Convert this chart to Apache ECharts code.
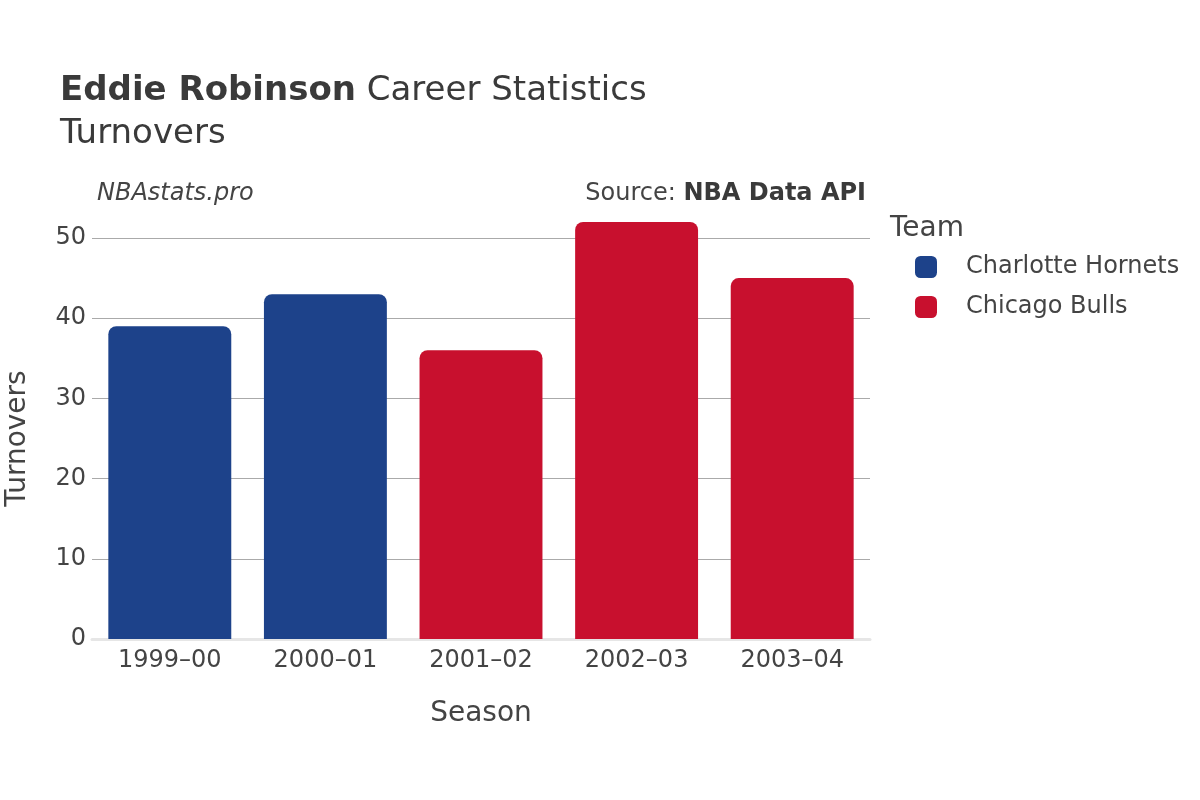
<!DOCTYPE html>
<html>
<head>
<meta charset="utf-8">
<script src="https://cdn.jsdelivr.net/npm/echarts@6/dist/echarts.min.js"></script>
<style>
  html, body { margin: 0; padding: 0; background: #fff; }
  #main { width: 1200px; height: 800px; }
</style>
</head>
<body>
<div id="main"></div>
<script>
// seasons and turnovers per team
var seasons = ['1999–00', '2000–01', '2001–02', '2002–03', '2003–04'];
var hornets = [39, 43, null, null, null];
var bulls = [null, null, 36, 52, 45];
var teams = ['Charlotte Hornets', 'Chicago Bulls'];
var yTicks = [0, 10, 20, 30, 40, 50];

var font = 'DejaVu Sans';
var textColor = '#444';

var chart = echarts.init(document.getElementById('main'));

var option = {
  backgroundColor: '#fff',
  animation: false,
  title: [
    {
      text: '{b|Eddie Robinson} Career Statistics',
      left: 55, top: 69,
      textStyle: {
        fontFamily: font, fontSize: 34, color: '#3a3a3a', fontWeight: 'normal',
        rich: { b: { fontFamily: font, fontSize: 34, fontWeight: 'bold', color: '#3a3a3a' } }
      }
    },
    {
      text: 'Turnovers',
      left: 55, top: 112,
      textStyle: { fontFamily: font, fontSize: 34, color: '#3a3a3a', fontWeight: 'normal' }
    },
    {
      text: 'NBAstats.pro',
      left: 92, top: 177,
      textStyle: { fontFamily: font, fontSize: 24, color: '#444', fontStyle: 'italic', fontWeight: 'normal' }
    },
    {
      text: 'Source: {b|NBA Data API}',
      right: 329, top: 177,
      textStyle: {
        fontFamily: font, fontSize: 24, color: '#444', fontWeight: 'normal',
        rich: { b: { fontFamily: font, fontSize: 24, fontWeight: 'bold', color: '#3a3a3a' } }
      }
    },
    {
      text: 'Team',
      left: 885, top: 210,
      textStyle: { fontFamily: font, fontSize: 28, color: '#444', fontWeight: 'normal' }
    }
  ],
  legend: {
    orient: 'vertical',
    left: 910, top: 250,
    icon: 'roundRect',
    itemWidth: 22, itemHeight: 22,
    itemGap: 16,
    data: teams,
    textStyle: { fontFamily: font, fontSize: 24, color: textColor, padding: [0, 0, 0, 24] }
  },
  grid: { left: 92, right: 330, top: 238, bottom: 161, containLabel: false, outerBoundsMode: 'none' },
  xAxis: {
    type: 'category',
    data: seasons,
    name: 'Season',
    nameLocation: 'middle',
    nameGap: 61,
    nameTextStyle: { fontFamily: font, fontSize: 28, color: textColor },
    axisLine: { show: true, lineStyle: { color: '#e6e6e6', width: 3 } },
    axisTick: { show: false },
    axisLabel: { fontFamily: font, fontSize: 24, color: textColor, margin: 10 }
  },
  yAxis: {
    type: 'value',
    min: 0, max: 50, interval: 10,
    name: 'Turnovers',
    nameLocation: 'middle',
    nameGap: 60,
    nameTextStyle: { fontFamily: font, fontSize: 28, color: textColor },
    axisLine: { show: false },
    axisTick: { show: false },
    axisLabel: {
      fontFamily: font, fontSize: 24, color: textColor, margin: 6,
      formatter: function (v) { return yTicks.indexOf(v) >= 0 ? String(v) : ''; }
    },
    splitLine: { lineStyle: { color: '#aaa', width: 1 } }
  },
  series: [
    {
      name: teams[0],
      type: 'bar',
      data: hornets,
      clip: false,
      barWidth: '79%',
      barGap: '-100%',
      itemStyle: { color: '#1D428A', borderRadius: [8, 8, 0, 0] }
    },
    {
      name: teams[1],
      type: 'bar',
      data: bulls,
      clip: false,
      barWidth: '79%',
      barGap: '-100%',
      itemStyle: { color: '#C8102E', borderRadius: [8, 8, 0, 0] }
    }
  ]
};

chart.setOption(option);
</script>
</body>
</html>
